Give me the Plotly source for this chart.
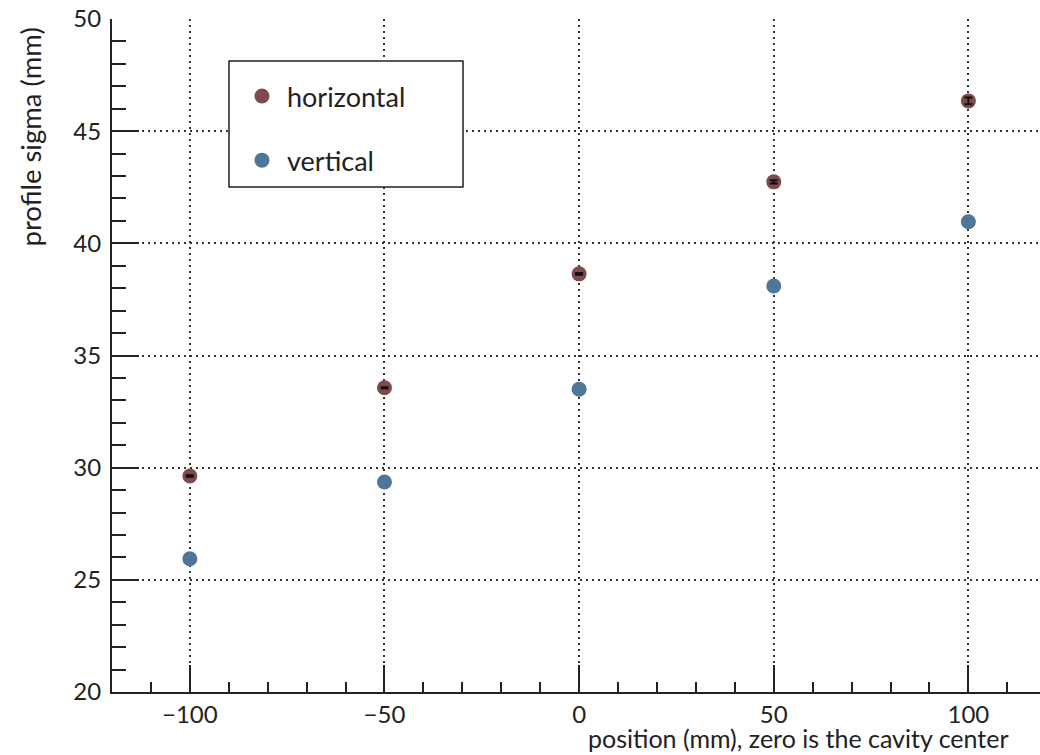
import plotly.graph_objects as go

positions = [-100, -50, 0, 50, 100]
horizontal = [29.63, 33.56, 38.64, 42.74, 46.35]
horizontal_err = [0.03, 0.03, 0.04, 0.07, 0.15]
vertical = [25.94, 29.36, 33.50, 38.10, 40.96]

FONT = "Lato"
INK = "#222222"
L, T, W, H = 112, 19, 928, 673  # plot area in pixels


def px_x(p):
    return (p - L) / W


def px_y(p):
    return 1 - (p - T) / H


fig = go.Figure()
fig.add_trace(go.Scatter(
    x=positions, y=horizontal, mode="markers", name="horizontal",
    legendgroup="h", marker=dict(color="#7e4a4c", size=15),
))
fig.add_trace(go.Scatter(
    x=positions, y=vertical, mode="markers", name="vertical",
    legendgroup="v", marker=dict(color="#4f7597", size=15),
))
# error bars drawn on top of the markers
fig.add_trace(go.Scatter(
    x=positions, y=horizontal, mode="markers", showlegend=False, hoverinfo="skip",
    marker=dict(size=1, opacity=0),
    error_y=dict(type="data", array=horizontal_err, color="#111111", thickness=2, width=4),
))

axis_common = dict(
    showline=True, linecolor=INK, linewidth=2, automargin=False,
    showgrid=True, gridcolor="#333333", griddash="2px,4px", gridwidth=2,
    zeroline=False, ticks="inside", ticklen=27, tickwidth=1.5, tickcolor=INK,
    tickfont=dict(family=FONT, size=24, color=INK),
)
fig.update_xaxes(range=[-120, 118.4], tickvals=[-100, -50, 0, 50, 100],
                 ticktext=["\u2212100", "\u221250", "0", "50", "100"],
                 minor=dict(dtick=10, ticks="inside", ticklen=10, tickcolor=INK, tickwidth=1.5, showgrid=False),
                 **axis_common)
fig.update_yaxes(range=[20, 50], tickvals=[20, 25, 30, 35, 40, 45, 50],
                 minor=dict(dtick=1, ticks="inside", ticklen=14, tickcolor=INK, tickwidth=1.5, showgrid=False),
                 ticklabelstandoff=4,
                 **axis_common)

fig.update_layout(
    width=1040, height=755,
    margin=dict(l=L, r=1040 - L - W, t=T, b=755 - T - H, autoexpand=False),
    plot_bgcolor="white", paper_bgcolor="white",
    font=dict(family=FONT, color=INK),
    showlegend=True,
    legend=dict(
        x=px_x(237), y=px_y(72), xanchor="left", yanchor="top",
        bgcolor="rgba(0,0,0,0)", borderwidth=0,
        font=dict(family=FONT, size=27, color=INK),
        traceorder="grouped", tracegroupgap=26,
        entrywidth=190, itemwidth=40,
    ),
    shapes=[dict(type="rect", xref="paper", yref="paper",
                 x0=px_x(229), x1=px_x(463), y0=px_y(187), y1=px_y(61),
                 fillcolor="white", line=dict(color=INK, width=1.5), layer="above")],
    annotations=[
        dict(text="profile sigma (mm)", xref="paper", yref="paper", x=px_x(30), y=px_y(26),
             xanchor="center", yanchor="top", textangle=-90, showarrow=False,
             font=dict(family=FONT, size=27.5, color=INK)),
        dict(text="position (mm), zero is the cavity center", xref="paper", yref="paper",
             x=px_x(1011), y=px_y(721), xanchor="right", yanchor="top", showarrow=False,
             font=dict(family=FONT, size=25, color=INK)),
    ],
)

fig.write_html("out.html", config={"displayModeBar": False},
               post_script="document.body.style.margin='0';document.body.style.overflow='hidden';")
